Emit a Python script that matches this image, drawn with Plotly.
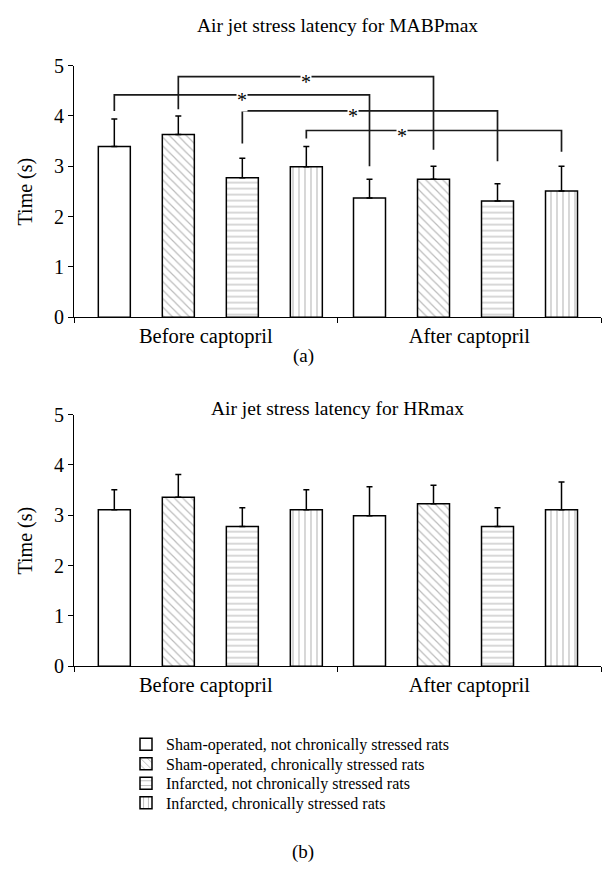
import plotly.graph_objects as go

# ---------------- data ----------------
groups = ["Before captopril", "After captopril"]
series = [
    "Sham-operated, not chronically stressed rats",
    "Sham-operated, chronically stressed rats",
    "Infarcted, not chronically stressed rats",
    "Infarcted, chronically stressed rats",
]
# Air jet stress latency for MABPmax (s): per series, [before, after]
mabp_mean = [[3.39, 2.37], [3.63, 2.74], [2.77, 2.31], [2.99, 2.51]]
mabp_sd = [[0.55, 0.37], [0.37, 0.26], [0.39, 0.34], [0.40, 0.49]]
# Air jet stress latency for HRmax (s)
hr_mean = [[3.11, 2.99], [3.36, 3.23], [2.78, 2.78], [3.11, 3.11]]
hr_sd = [[0.40, 0.58], [0.45, 0.37], [0.37, 0.37], [0.40, 0.55]]
# significance brackets (series index): left leg end, bar height, right leg end
sig_series = [0, 1, 2, 3]
sig_left = [4.10, 4.13, 3.45, 3.55]
sig_top = [4.42, 4.78, 4.10, 3.71]
sig_right = [3.00, 3.33, 3.10, 3.29]
y_ticks = [0, 1, 2, 3, 4, 5]

# ---------------- styling / layout ----------------
FONT = "Liberation Serif, Times New Roman, serif"
W, H = 606, 883
patterns = ["", "\\", "-", "|"]
group_w = 4.117
group_pad = [0.63, 0.5]
star_frac = [0.5, 0.5, 0.434, 0.373]
legend_rows_px = [752, 772, 792, 812]


def px_y(p):
    return 1 - p / H


xdom = [74 / W, 601 / W]
dom_top = [px_y(314), px_y(56)]
dom_bot = [px_y(672), px_y(414)]


def xpos(g, s):
    return g * group_w + group_pad[g] + s


legend_ids = ["legend", "legend2", "legend3", "legend4"]

fig = go.Figure()
for panel, (means, sds) in enumerate([(mabp_mean, mabp_sd), (hr_mean, hr_sd)]):
    xa = "x" if panel == 0 else "x2"
    ya = "y" if panel == 0 else "y2"
    for s, name in enumerate(series):
        fig.add_trace(go.Bar(
            x=[xpos(g, s) for g in range(len(groups))],
            y=means[s],
            width=0.5,
            name=name,
            showlegend=(panel == 0),
            legend=legend_ids[s],
            xaxis=xa, yaxis=ya,
            marker=dict(
                color="white",
                line=dict(color="black", width=1.5),
                pattern=dict(shape=patterns[s], fgcolor="#7a7a7a", bgcolor="white",
                             size=6, solidity=0.2, fillmode="overlay"),
            ),
            error_y=dict(type="data", symmetric=False, array=sds[s],
                         arrayminus=[0] * len(groups), color="black",
                         thickness=1.5, width=3),
        ))

axis_common = dict(
    showline=True, linecolor="black", linewidth=1.2, mirror=False,
    showgrid=False, zeroline=False,
)
for panel, dom in enumerate([dom_top, dom_bot]):
    sfx = "" if panel == 0 else "2"
    fig.layout["xaxis" + sfx] = dict(
        **axis_common, domain=xdom, range=[0, 2 * group_w],
        anchor="y" + sfx,
        tickvals=[group_w * (g + 0.5) for g in range(len(groups))],
        ticktext=groups, ticks="",
        tickfont=dict(family=FONT, size=20.5, color="black"),
        minor=dict(tick0=0, dtick=group_w, ticks="outside", ticklen=5,
                   tickcolor="black", tickwidth=1.2),
        fixedrange=True,
    )
    fig.layout["yaxis" + sfx] = dict(
        **axis_common, domain=dom, range=[0, 5], anchor="x" + sfx,
        tickvals=y_ticks, ticks="outside", ticklen=5, tickcolor="black",
        tickwidth=1.2, tickfont=dict(family=FONT, size=20, color="black"),
        fixedrange=True,
    )

shapes = []
annotations = []
for k, s in enumerate(sig_series):
    x1, x2 = xpos(0, s), xpos(1, s)
    shapes.append(dict(
        type="path", xref="x", yref="y",
        path=f"M {x1},{sig_left[k]} L {x1},{sig_top[k]} L {x2},{sig_top[k]} L {x2},{sig_right[k]}",
        line=dict(color="#1a1a1a", width=1.7),
    ))
    annotations.append(dict(
        x=x1 + (x2 - x1) * star_frac[k], y=sig_top[k], xref="x", yref="y",
        text="*", showarrow=False, bgcolor="white", borderpad=0,
        font=dict(family=FONT, size=20, color="black"), yshift=-5,
        xanchor="center", yanchor="middle",
    ))


def txt(text, xp, yp, size=19, angle=0):
    annotations.append(dict(
        x=xp / W, y=px_y(yp), xref="paper", yref="paper", text=text,
        showarrow=False, textangle=angle, xanchor="center", yanchor="middle",
        font=dict(family=FONT, size=size, color="black"),
    ))


txt("Air jet stress latency for MABPmax", 337.5, 15, size=19.5)
txt("Air jet stress latency for HRmax", 337.5, 408, size=19.5)
txt("Time (s)", 25, 185, size=20, angle=-90)
txt("Time (s)", 25, 543, size=20, angle=-90)
txt("(a)", 303, 354)
txt("(b)", 303, 863)

fig.update_layout(
    width=W, height=H, autosize=False,
    margin=dict(l=0, r=0, t=0, b=0),
    paper_bgcolor="white", plot_bgcolor="white",
    barmode="overlay",
    shapes=shapes, annotations=annotations,
    showlegend=True,
)
for lid, row in zip(legend_ids, legend_rows_px):
    fig.layout[lid] = dict(
        x=126 / W, y=px_y(row), xanchor="left", yanchor="middle",
        font=dict(family=FONT, size=16, color="black"),
        bgcolor="rgba(0,0,0,0)", borderwidth=0,
        itemclick=False, itemdoubleclick=False,
    )

fig.write_html("out.html")
